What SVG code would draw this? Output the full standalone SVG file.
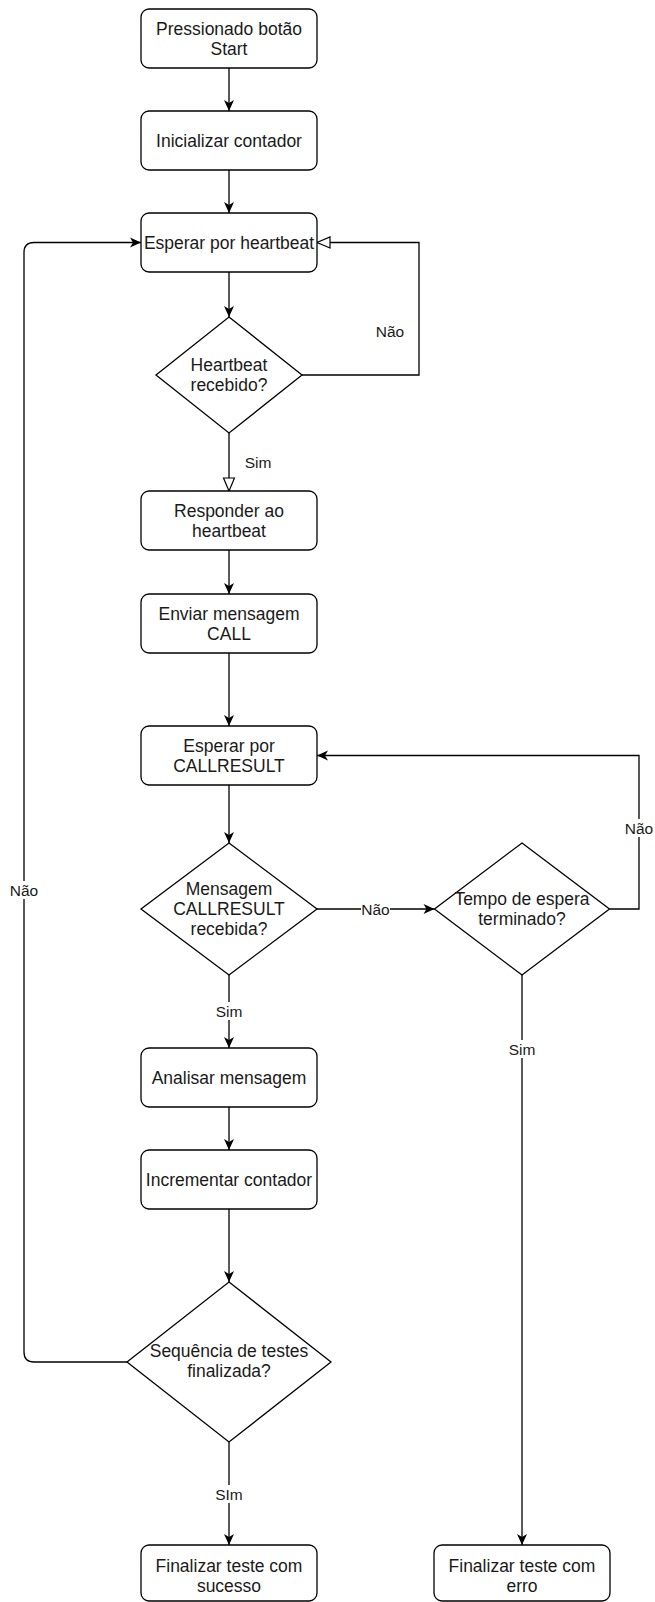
<svg xmlns="http://www.w3.org/2000/svg" width="655" height="1602" viewBox="0 0 655 1602">
<style>
.box{fill:#fff;stroke:#000;stroke-width:1.3}
.t{font-family:"Liberation Sans",Arial,sans-serif;font-size:17.5px;fill:#1a1a1a;text-anchor:middle}
.l{font-family:"Liberation Sans",Arial,sans-serif;font-size:15.5px;fill:#1a1a1a;text-anchor:middle}
.c{fill:none;stroke:#000;stroke-width:1.3}
.lb{fill:#fff;stroke:none}
</style>
<defs>
<marker id="a" viewBox="-12 -6 13 12" refX="0" refY="0" markerWidth="13" markerHeight="12" markerUnits="userSpaceOnUse" orient="auto"><path d="M0,0 L-11,-5 L-8,0 L-11,5 Z" fill="#000"/></marker>
<marker id="h" viewBox="-1 -7 15 14" refX="0" refY="0" markerWidth="15" markerHeight="14" markerUnits="userSpaceOnUse" orient="auto"><path d="M0,-5.5 L13,0 L0,5.5 Z" fill="#fff" stroke="#000" stroke-width="1.2"/></marker>
</defs>
<g id="connectors">
<path class="c" d="M229,68 V111" marker-end="url(#a)"/>
<path class="c" d="M229,170 V213" marker-end="url(#a)"/>
<path class="c" d="M229,272 V317" marker-end="url(#a)"/>
<path class="c" d="M302,375 H419 V242.5 H330" marker-end="url(#h)"/>
<path class="c" d="M229,433 V478" marker-end="url(#h)"/>
<path class="c" d="M229,550 V594" marker-end="url(#a)"/>
<path class="c" d="M229,653 V726" marker-end="url(#a)"/>
<path class="c" d="M229,785 V843" marker-end="url(#a)"/>
<path class="c" d="M317,909 H434.5" marker-end="url(#a)"/>
<path class="c" d="M609.5,909 H639 V755.5 H317" marker-end="url(#a)"/>
<path class="c" d="M229,975 V1048" marker-end="url(#a)"/>
<path class="c" d="M522,975 V1545" marker-end="url(#a)"/>
<path class="c" d="M229,1107 V1150" marker-end="url(#a)"/>
<path class="c" d="M229,1209 V1282" marker-end="url(#a)"/>
<path class="c" d="M127,1362 H34 Q24,1362 24,1352 V252.5 Q24,242.5 34,242.5 H141" marker-end="url(#a)"/>
<path class="c" d="M229,1442 V1545" marker-end="url(#a)"/>
<text class="l" x="390" y="336.5">Não</text>
<text class="l" x="258" y="467.5">Sim</text>
<rect class="lb" x="361" y="900" width="29" height="18"/>
<text class="l" x="375.5" y="914.5">Não</text>
<rect class="lb" x="625" y="819" width="29" height="18"/>
<text class="l" x="639" y="833.5">Não</text>
<rect class="lb" x="10" y="881" width="29" height="18"/>
<text class="l" x="24" y="895.5">Não</text>
<rect class="lb" x="215" y="1002" width="28" height="18"/>
<text class="l" x="229" y="1016.5">Sim</text>
<rect class="lb" x="508" y="1040" width="28" height="18"/>
<text class="l" x="522" y="1054.5">Sim</text>
<rect class="lb" x="215" y="1485" width="28" height="18"/>
<text class="l" x="229" y="1499.5">SIm</text>
</g>
<g id="n1"><rect class="box" x="141" y="9" width="176" height="59" rx="8"/><text class="t" x="229" y="34.5">Pressionado botão</text><text class="t" x="229" y="54.5">Start</text></g>
<g id="n2"><rect class="box" x="141" y="111" width="176" height="59" rx="8"/><text class="t" x="229" y="146.5">Inicializar contador</text></g>
<g id="n3"><rect class="box" x="141" y="213" width="176" height="59" rx="8"/><text class="t" x="229" y="248.5">Esperar por heartbeat</text></g>
<g id="d1"><polygon class="box" points="229,317 302,375 229,433 156,375"/><text class="t" x="229" y="371">Heartbeat</text><text class="t" x="229" y="391">recebido?</text></g>
<g id="n4"><rect class="box" x="141" y="491" width="176" height="59" rx="8"/><text class="t" x="229" y="516.5">Responder ao</text><text class="t" x="229" y="536.5">heartbeat</text></g>
<g id="n5"><rect class="box" x="141" y="594" width="176" height="59" rx="8"/><text class="t" x="229" y="619.5">Enviar mensagem</text><text class="t" x="229" y="639.5">CALL</text></g>
<g id="n6"><rect class="box" x="141" y="726" width="176" height="59" rx="8"/><text class="t" x="229" y="751.5">Esperar por</text><text class="t" x="229" y="771.5">CALLRESULT</text></g>
<g id="d2"><polygon class="box" points="229,843 317,909 229,975 141,909"/><text class="t" x="229" y="895">Mensagem</text><text class="t" x="229" y="915">CALLRESULT</text><text class="t" x="229" y="935">recebida?</text></g>
<g id="d3"><polygon class="box" points="522,843 609.5,909 522,975 434.5,909"/><text class="t" x="522" y="905">Tempo de espera</text><text class="t" x="522" y="925">terminado?</text></g>
<g id="n7"><rect class="box" x="141" y="1048" width="176" height="59" rx="8"/><text class="t" x="229" y="1083.5">Analisar mensagem</text></g>
<g id="n8"><rect class="box" x="141" y="1150" width="176" height="59" rx="8"/><text class="t" x="229" y="1185.5">Incrementar contador</text></g>
<g id="d4"><polygon class="box" points="229,1282 331,1362 229,1442 127,1362"/><text class="t" x="229" y="1357">Sequência de testes</text><text class="t" x="229" y="1377">finalizada?</text></g>
<g id="n9"><rect class="box" x="141" y="1545" width="176" height="56" rx="8"/><text class="t" x="229" y="1571.5">Finalizar teste com</text><text class="t" x="229" y="1591.5">sucesso</text></g>
<g id="n10"><rect class="box" x="434" y="1545" width="176" height="56" rx="8"/><text class="t" x="522" y="1571.5">Finalizar teste com</text><text class="t" x="522" y="1591.5">erro</text></g>
</svg>
